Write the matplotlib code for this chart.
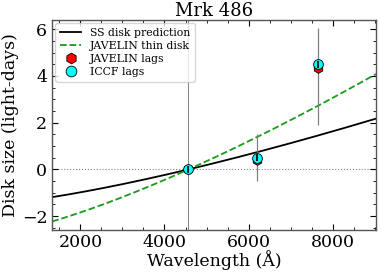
import numpy as np
import matplotlib
matplotlib.use("Agg")
import matplotlib.pyplot as plt
from matplotlib.ticker import MultipleLocator, AutoMinorLocator

# Data
title = "Mrk 486"
ref_wave = 4570.0
wave = [4570.0, 6190.0, 7640.0]
javelin_lag = [0.0, 0.40, 4.35]
iccf_lag = [0.0, 0.50, 4.50]
iccf_err_lo = [0.0, 1.0, 2.6]
iccf_err_hi = [0.0, 1.0, 1.55]
# model parameters (tau = amp * ((lambda/ref)^beta - 1))
ss_amp = 1.47
jav_amp = 2.76
beta = 4.0 / 3.0

plt.rcParams['font.family'] = ['DejaVu Serif']
fig = plt.figure(figsize=(3.81, 2.73), dpi=100)
ax = fig.add_axes([0.137, 0.157, 0.850, 0.770])

xlim = (1330, 9030)
lam = np.linspace(xlim[0], xlim[1], 300)
ss = ss_amp * ((lam / ref_wave) ** beta - 1)
jv = jav_amp * ((lam / ref_wave) ** beta - 1)

ax.axhline(0, color='gray', ls=':', lw=0.8, zorder=1)
ax.axvline(ref_wave, color='gray', lw=0.7, zorder=1)
ax.plot(lam, ss, color='black', lw=1.3, label='SS disk prediction', zorder=2)
ax.plot(lam, jv, color='#1a9a1a', ls='--', lw=1.3, label='JAVELIN thin disk', zorder=2)

ax.errorbar(wave, iccf_lag, yerr=[iccf_err_lo, iccf_err_hi], fmt='none',
            ecolor='gray', elinewidth=0.9, zorder=3)
ax.plot(wave, javelin_lag, 'h', color='red', mec='black', mew=0.6, ms=7,
        ls='none', label='JAVELIN lags', zorder=4)
ax.plot(wave, iccf_lag, 'o', color='cyan', mec='black', mew=0.6, ms=7,
        ls='none', label='ICCF lags', zorder=5)
ax.errorbar(wave, iccf_lag, yerr=0.15, fmt='none', ecolor='black', elinewidth=1.2, zorder=6)

ax.set_xlim(*xlim)
ax.set_ylim(-2.6, 6.4)
ax.xaxis.set_major_locator(MultipleLocator(2000))
ax.xaxis.set_minor_locator(AutoMinorLocator(4))
ax.yaxis.set_major_locator(MultipleLocator(2))
ax.yaxis.set_minor_locator(AutoMinorLocator(4))
ax.tick_params(which='both', direction='in', top=True, right=True, labelsize=12.5)
ax.tick_params(which='major', length=4)
ax.tick_params(which='minor', length=2)
ax.tick_params(axis='x', pad=3)
for s in ax.spines.values():
    s.set_linewidth(1.0)
    s.set_color('#555555')

ax.set_xlabel('Wavelength (Å)', fontsize=12.5, labelpad=-1)
ax.set_ylabel('Disk size (light-days)', fontsize=12.5, labelpad=2)
ax.set_title(title, fontsize=13, pad=3)
ax.legend(loc='upper left', fontsize=7.8, frameon=True, handlelength=2.0,
          borderpad=0.4, labelspacing=0.3, borderaxespad=0.3, markerscale=1.1)

fig.savefig('out.png', dpi=100)
